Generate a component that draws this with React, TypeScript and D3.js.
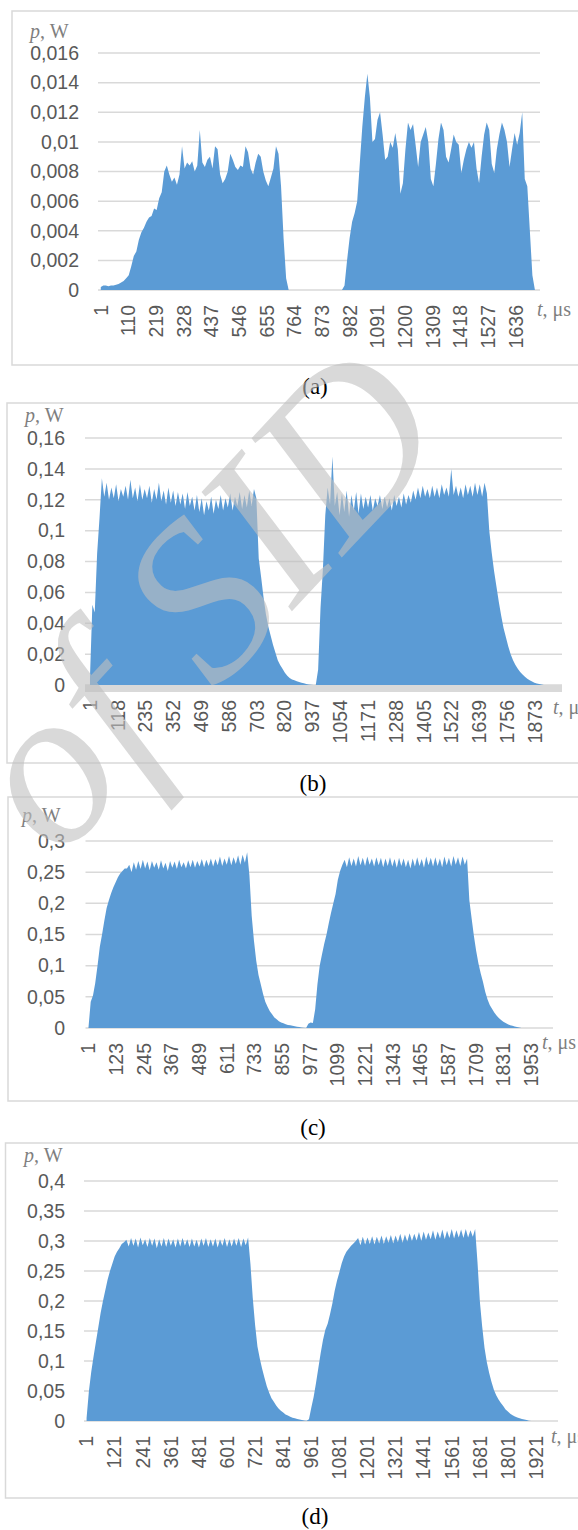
import React from "react";
import * as d3 from "d3";

// samples every 10 us starting at t = 1, power in mW
const stepT = 10;

const pA = [
  0.2, 0.3, 0.3, 0.25, 0.3, 0.3, 0.35, 0.4, 0.5, 0.6, 0.8, 1.0, 1.6, 2.3, 2.6, 3.4, 3.9, 4.2, 4.6, 4.9, 5.0, 5.5, 5.4, 6.2, 6.6,
  8.0, 8.4, 7.8, 7.3, 7.6, 7.1, 7.8, 9.7, 8.2, 8.6, 8.4, 8.7, 8.0, 8.4, 10.8, 8.6, 8.3, 8.8, 9.0, 8.2, 9.7, 9.5, 7.8, 7.2, 7.5,
  8.0, 9.2, 8.8, 8.3, 8.1, 8.4, 8.3, 9.7, 9.3, 8.2, 7.8, 8.6, 9.2, 9.0, 8.0, 7.4, 7.0, 7.6, 8.2, 9.7, 9.2, 7.0, 3.5, 0.8, 0,
  0, 0, 0, 0, 0, 0, 0, 0, 0, 0, 0, 0, 0, 0, 0, 0, 0, 0, 0, 0, 0,
  0.3, 2.0, 3.5, 4.6, 5.2, 6.0, 8.5, 11.0, 13.0, 14.6, 13.0, 10.0,
  10.2, 11.5, 12.0, 10.5, 8.8, 9.0, 10.0, 9.6, 10.6, 9.5, 6.5, 7.2, 9.5, 11.3, 10.8, 11.2, 9.8, 8.3, 10.0, 10.5,
  11.0, 10.0, 7.5, 7.0, 8.5, 10.2, 11.3, 10.8, 9.0, 8.6, 9.5, 10.5, 10.0, 9.8, 7.9, 8.8, 9.5, 10.0, 9.6, 10.0,
  8.2, 7.2, 9.0, 10.5, 11.3, 10.8, 8.5, 7.9, 9.5, 10.5, 11.3, 10.8, 10.0, 8.3, 9.5, 10.6, 9.8, 10.6, 12.0, 7.5,
  7.0, 4.0, 1.0, 0,
];

const pB = [
  5, 52, 47, 85, 108, 134,
  122, 131, 120, 128, 121, 130, 119, 127, 122, 129, 120, 133, 121, 128, 119, 130, 120, 127, 121, 129,
  118, 127, 120, 131, 119, 126, 117, 128, 118, 126, 116, 125, 117, 124, 114, 125, 116, 122, 113, 123,
  112, 121, 110, 119, 113, 122, 111, 120, 114, 123, 113, 121, 115, 124, 113, 122, 116, 125, 114, 123,
  115, 126, 116, 127, 121,
  82, 70, 57, 46, 38, 32, 26, 21, 16, 13, 10.5, 8, 6, 4.6, 3.6, 3, 2.4, 2, 1.5, 1.1, 0.7, 0.4, 0.1, 0, 0,
  10, 50, 75, 110, 128, 117, 148, 116,
  125, 110, 124, 112, 126, 109, 123, 113, 125, 111, 124, 114, 122, 115, 123, 113, 121, 116, 123, 114,
  122, 115, 121, 113, 123, 116, 122, 115, 124, 117, 123, 118, 126, 120, 128, 121, 129, 122, 127, 121,
  129, 122, 128, 121, 130, 123, 128, 122, 140, 123, 129, 122, 128, 121, 130, 123, 129, 122, 131, 123,
  130, 122, 131, 124,
  100, 86, 74, 64, 54, 45, 37, 31, 25, 20, 16, 13, 10.5, 8.5, 6.8, 5.3, 4, 3, 2.2, 1.5, 1, 0.6, 0.3, 0,
];

const pC = [
  0, 42, 52, 72, 100, 130, 150, 172, 192, 205, 216, 226, 234, 242, 248, 252, 256,
  256, 262, 250, 266, 254, 268, 255, 270, 256, 267, 253, 268, 257, 266, 254, 269, 256, 265, 252, 268,
  257, 267, 255, 270, 258, 266, 256, 269, 258, 270, 257, 268, 259, 271, 258, 270, 260, 272, 259, 271,
  261, 275, 260, 272, 262, 276, 261, 274, 263, 277, 262, 278, 265, 282,
  245, 180, 140, 108, 85, 70, 55, 42, 34, 27, 22, 17, 14, 11, 9, 7.5, 6, 5, 4.5, 3.5, 3, 2, 1.5, 1, 0.3, 0,
  7, 9, 8, 30, 70, 100, 118, 135, 150, 168, 185, 200, 215, 238, 252,
  262, 270, 258, 274, 260, 272, 259, 276, 261, 273, 260, 275, 262, 272, 259, 274, 261, 273, 258, 272,
  260, 274, 259, 271, 257, 273, 260, 272, 258, 270, 256, 272, 259, 274, 260, 271, 257, 275, 261, 273,
  259, 274, 260, 272, 258, 275, 261, 273, 259, 276, 262, 274, 260, 275, 262, 272,
  205, 176, 148, 124, 104, 88, 74, 58, 46, 37, 31, 25, 20, 16, 13, 10, 8, 6, 4.5, 3.5, 2.5, 1.5, 0.7, 0,
];

const pD = [
  5, 50, 82, 108, 132, 156, 180, 200, 218, 236, 250, 262, 274, 282, 288, 295, 298,
  302, 291, 305, 292, 304, 289, 306, 293, 303, 290, 305, 292, 304, 288, 303, 291, 305, 290, 304, 292,
  303, 289, 304, 291, 305, 292, 303, 290, 304, 291, 302, 289, 304, 292, 305, 290, 303, 291, 304, 289,
  303, 292, 305, 290, 303, 291, 304, 292, 305, 290, 304, 293, 306,
  262, 205, 160, 124, 104, 87, 72, 58, 47, 38, 32, 26, 21, 17, 14, 11, 9, 7, 5.5, 4.5, 3.5, 2.5, 1.5, 0.8, 0.3,
  3, 22, 40, 63, 88, 113, 135, 152, 162, 178, 196, 217, 234, 248, 263, 274, 282, 287, 292, 296, 300,
  305, 293, 307, 294, 306, 295, 308, 294, 307, 296, 309, 295, 308, 297, 310, 296, 309, 298, 312, 297,
  311, 299, 313, 300, 312, 301, 315, 300, 316, 302, 314, 303, 318, 302, 316, 304, 319, 303, 317, 305,
  320, 304, 318, 306, 319, 305, 320, 306, 318, 307, 320,
  265, 200, 158, 122, 98, 80, 65, 52, 43, 36, 30, 25, 19, 16, 12, 9.5, 7.5, 6, 4.5, 3.5, 2.5, 1.5, 0.5, 0,
];

const ticksA = [1, 110, 219, 328, 437, 546, 655, 764, 873, 982, 1091, 1200, 1309, 1418, 1527, 1636];
const ticksB = [1, 118, 235, 352, 469, 586, 703, 820, 937, 1054, 1171, 1288, 1405, 1522, 1639, 1756, 1873];
const ticksC = [1, 123, 245, 367, 489, 611, 733, 855, 977, 1099, 1221, 1343, 1465, 1587, 1709, 1831, 1953];
const ticksD = [1, 121, 241, 361, 481, 601, 721, 841, 961, 1081, 1201, 1321, 1441, 1561, 1681, 1801, 1921];

const yTicksA = [0, 0.002, 0.004, 0.006, 0.008, 0.01, 0.012, 0.014, 0.016];
const yTicksB = [0, 0.02, 0.04, 0.06, 0.08, 0.1, 0.12, 0.14, 0.16];
const yTicksC = [0, 0.05, 0.1, 0.15, 0.2, 0.25, 0.3];
const yTicksD = [0, 0.05, 0.1, 0.15, 0.2, 0.25, 0.3, 0.35, 0.4];

const captions = ["(a)", "(b)", "(c)", "(d)"];

const panels = [
  { data: pA, xt: ticksA, yt: yTicksA, tDom: [-10, 1731], box: [12, 11, 365], l: 98, r: 540, y0: 290, yTop: 53, labR: 79, pw: [30, 38], tu: [537, 316], cap: [315, 394], thick: false },
  { data: pB, xt: ticksB, yt: yTicksB, tDom: [-20, 1987], box: [7, 403, 763], l: 85, r: 562, y0: 685, yTop: 438, labR: 65, pw: [25, 422], tu: [553, 714], cap: [313, 791], thick: true },
  { data: pC, xt: ticksC, yt: yTicksC, tDom: [-12, 2050], box: [8, 797, 1101], l: 85.5, r: 553, y0: 1028, yTop: 841, labR: 65, pw: [22, 822], tu: [542, 1049], cap: [313, 1135], thick: false },
  { data: pD, xt: ticksD, yt: yTicksD, tDom: [-10, 2015], box: [5.5, 1143, 1498], l: 84, r: 558, y0: 1421, yTop: 1181, labR: 65, pw: [24, 1162], tu: [551, 1443], cap: [315, 1524], thick: false },
];

const fmt = (v: number) => String(parseFloat(v.toPrecision(6))).replace(".", ",");

const tickFont = "'Liberation Sans', Arial, sans-serif";
const serif = "'Liberation Serif', 'Times New Roman', serif";

function Panel({ p, idx }: { p: any; idx: number }) {
  const x = d3.scaleLinear().domain(p.tDom).range([p.l, p.r]);
  const yMax = p.yt[p.yt.length - 1];
  const y = d3.scaleLinear().domain([0, yMax]).range([p.y0, p.yTop]);
  const area = d3
    .area<number>()
    .x((d, i) => x(1 + i * stepT))
    .y0(p.y0)
    .y1((d) => y(d / 1000));
  return (
    <g>
      <rect x={p.box[0]} y={p.box[1]} width={600} height={p.box[2] - p.box[1]} fill="#fff" stroke="#d9d9d9" strokeWidth={1.5} />
      {p.yt.map((v: number) => (
        <line key={"g" + v} x1={p.l} x2={p.r} y1={y(v)} y2={y(v)} stroke="#d9d9d9" strokeWidth={1.5} />
      ))}
      {p.thick && <rect x={p.l} y={p.y0} width={p.r - p.l} height={7} fill="#d9d9d9" />}
      <path d={area(p.data) || ""} fill="#5b9bd5" />
      {p.yt.map((v: number) => (
        <text key={"y" + v} x={p.labR} y={y(v)} dy="0.35em" textAnchor="end" fontFamily={tickFont} fontSize={19.5} fill="#595959">
          {fmt(v)}
        </text>
      ))}
      {p.xt.map((t: number) => (
        <text
          key={"x" + t}
          transform={`translate(${x(t)},${p.y0 + 15}) rotate(-90)`}
          dy="0.35em"
          textAnchor="end"
          fontFamily={tickFont}
          fontSize={19.5}
          fill="#595959"
        >
          {t}
        </text>
      ))}
      <text x={p.pw[0]} y={p.pw[1]} fontFamily={serif} fontSize={20} fill="#7f7f7f">
        <tspan fontStyle="italic">p</tspan>, W
      </text>
      <text x={p.tu[0]} y={p.tu[1]} fontFamily={serif} fontSize={20} fill="#7f7f7f">
        <tspan fontStyle="italic">t</tspan>, μs
      </text>
      <text x={p.cap[0]} y={p.cap[1]} textAnchor="middle" fontFamily={serif} fontSize={23} fill="#000">
        {captions[idx]}
      </text>
    </g>
  );
}

export default function App() {
  return (
    <svg width={578} height={1530} style={{ position: "absolute", left: 0, top: 0, background: "#fff" }}>
      <rect width={578} height={1530} fill="#fff" />
      {panels.map((p, i) => (
        <Panel key={i} p={p} idx={i} />
      ))}
      {/* faint publisher watermark across panel (b) */}
      <text
        transform="translate(58,862) rotate(-47)"
        fontFamily={serif}
        fontStyle="italic"
        fontSize={225}
        fill="#c0c0c0"
        opacity={0.6}
      >
        of SID
      </text>
    </svg>
  );
}
